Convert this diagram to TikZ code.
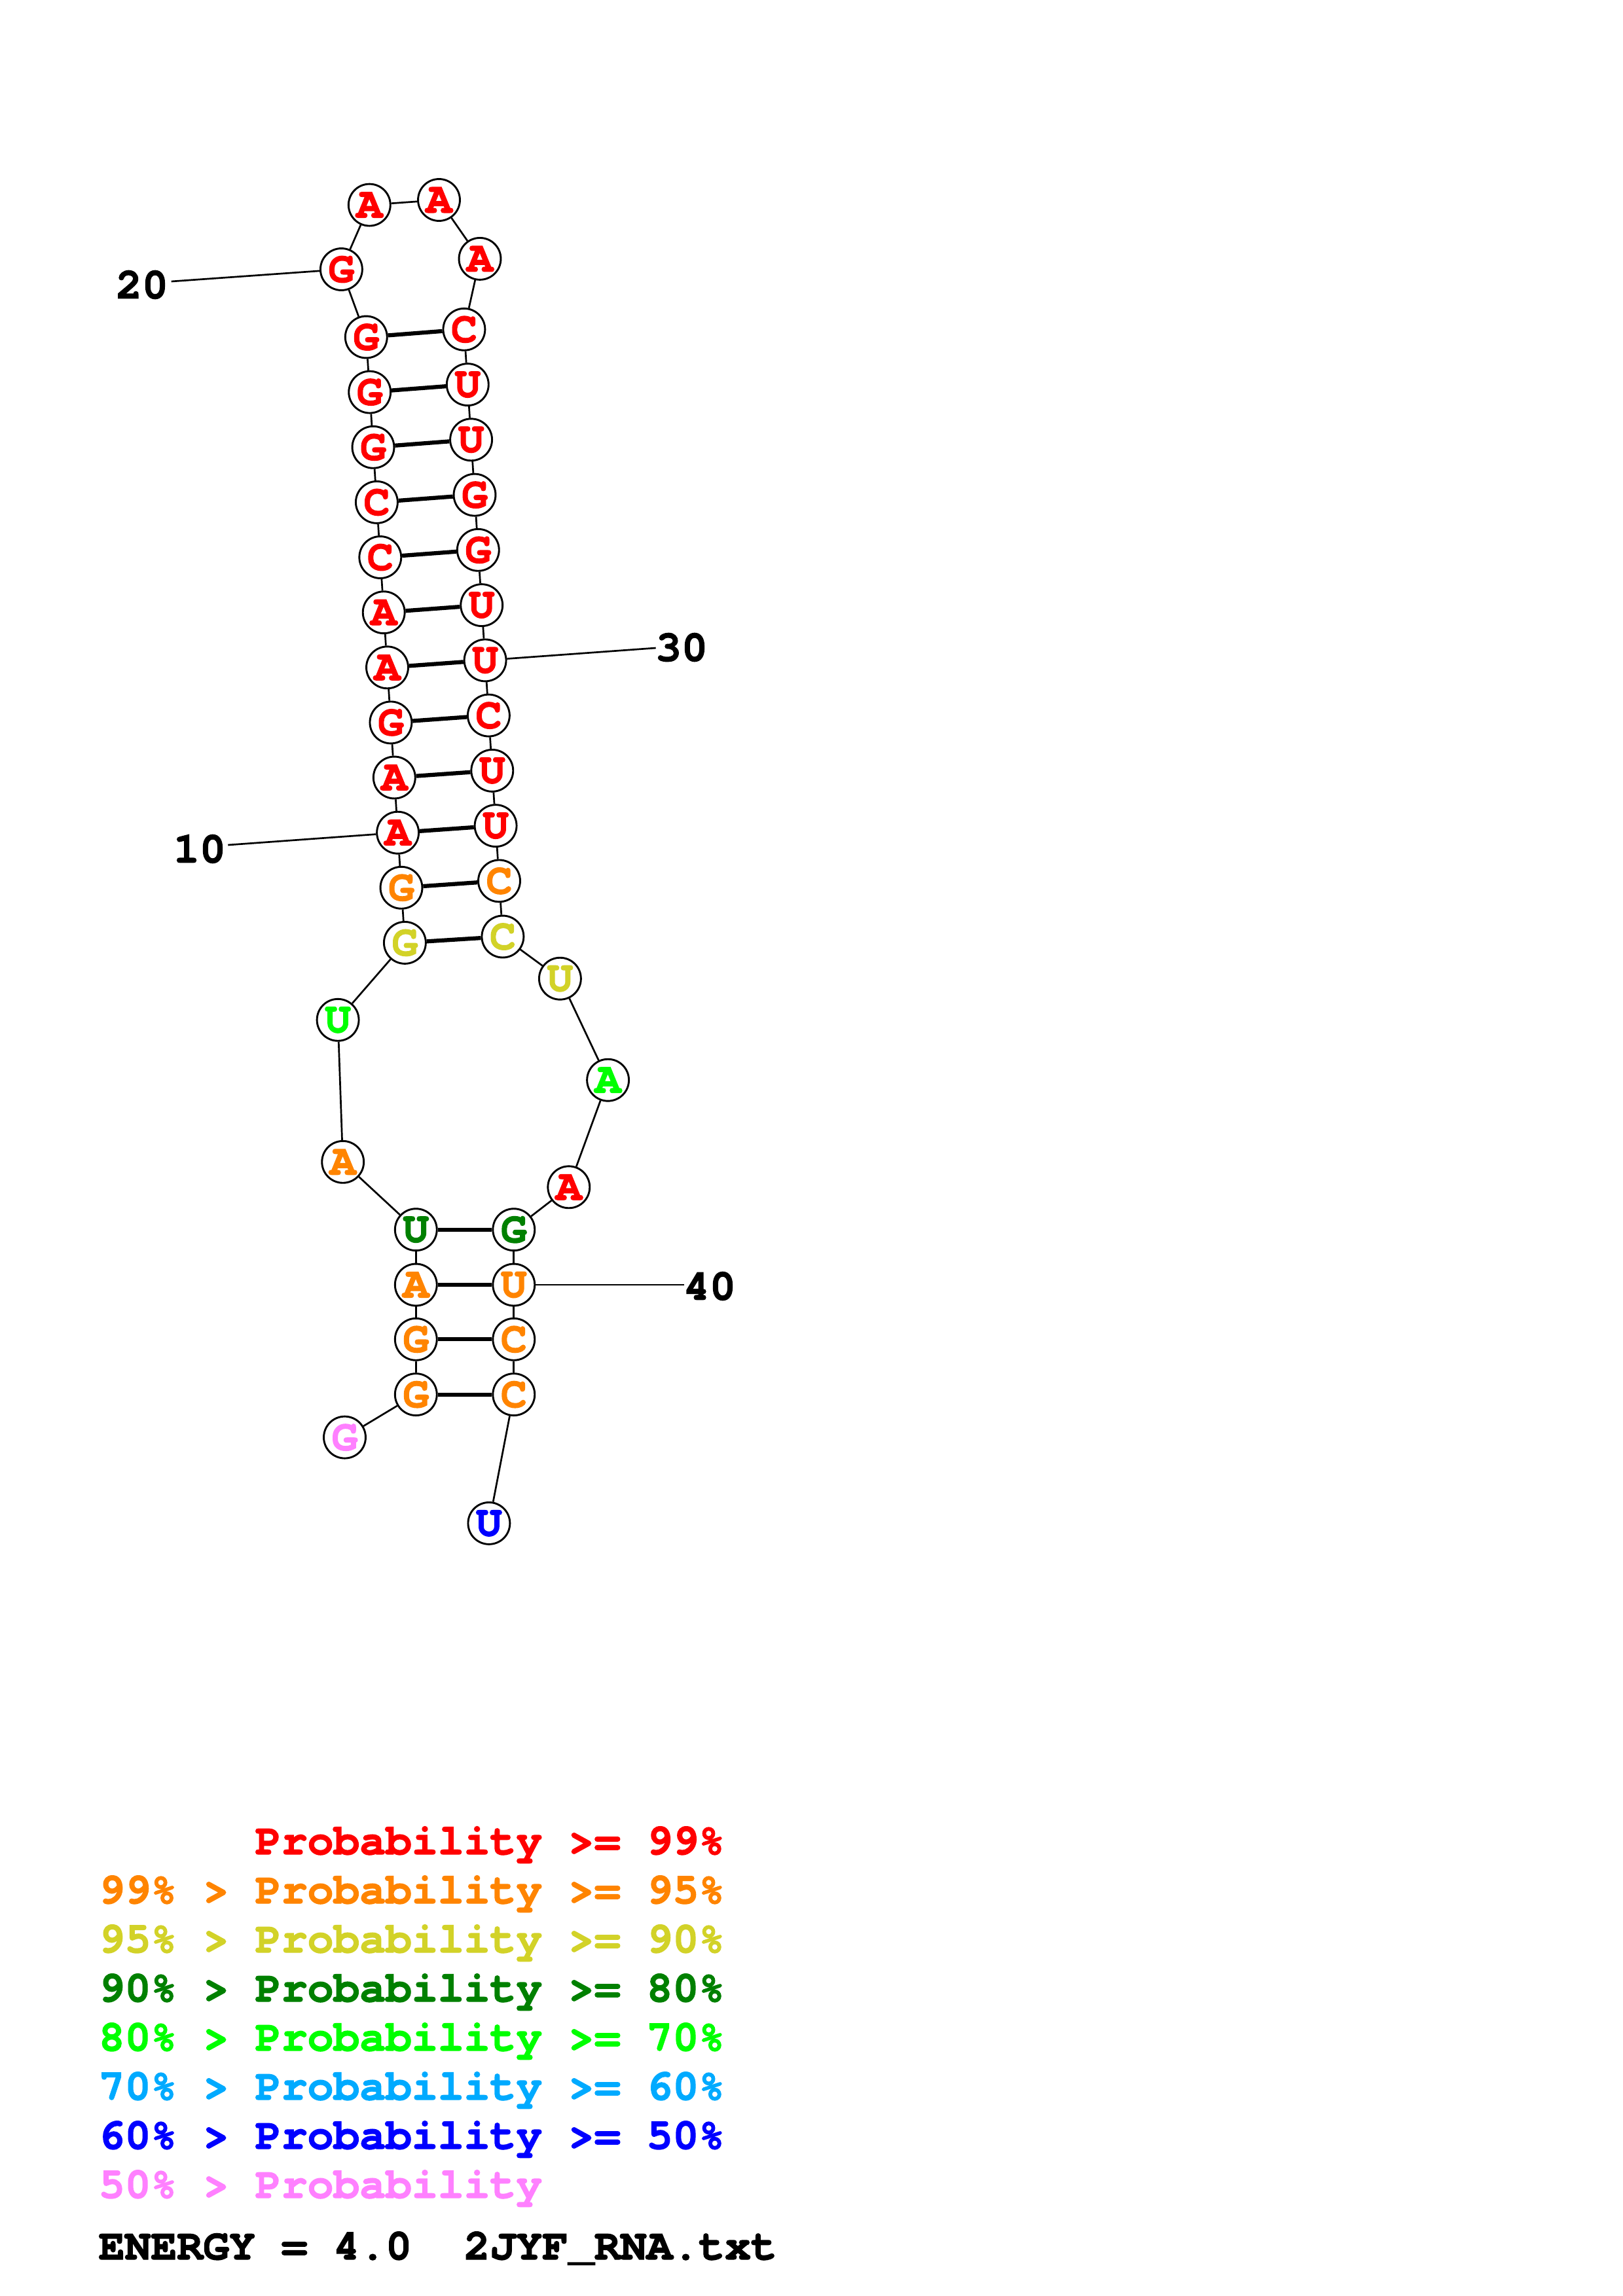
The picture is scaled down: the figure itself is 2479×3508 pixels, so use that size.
\documentclass[tikz,border=0pt]{standalone}
\usepackage{fontspec}
\newfontfamily\cour{TeX Gyre Cursor}[BoldFeatures={FakeBold=2}]
\definecolor{pRed}{RGB}{255,0,0}
\definecolor{pOrange}{RGB}{255,132,0}
\definecolor{pYellow}{RGB}{210,210,40}
\definecolor{pDkGreen}{RGB}{0,128,0}
\definecolor{pGreen}{RGB}{0,255,0}
\definecolor{pLBlue}{RGB}{0,170,255}
\definecolor{pBlue}{RGB}{0,0,255}
\definecolor{pPink}{RGB}{255,128,255}
\tikzset{
  nt/.style={circle,draw=black,line width=0.7pt,fill=white,minimum size=15.4pt,inner sep=0pt,font=\cour\bfseries\fontsize{16pt}{16pt}\selectfont},
  bb/.style={line width=0.65pt},
  bond/.style={line width=1.5pt},
  numlab/.style={font=\cour\bfseries\fontsize{16pt}{16pt}\selectfont,inner sep=0pt},
  leg/.style={font=\cour\bfseries\fontsize{16pt}{16pt}\selectfont,inner sep=0pt,anchor=base west}
}
\begin{document}
\begin{tikzpicture}[x=0.2409pt,y=-0.2409pt]
\useasboundingbox (0,0) rectangle (2479,3508);
% nucleotides
\node[nt,text=pPink]    (n1)  at (526.5,2196.1) {G};
\node[nt,text=pOrange]  (n2)  at (635.3,2130.6) {G};
\node[nt,text=pOrange]  (n3)  at (635.3,2046.3) {G};
\node[nt,text=pOrange]  (n4)  at (635.3,1963.0) {A};
\node[nt,text=pDkGreen] (n5)  at (635.3,1878.7) {U};
\node[nt,text=pOrange]  (n6)  at (523.7,1775.3) {A};
\node[nt,text=pGreen]   (n7)  at (516.1,1558.3) {U};
\node[nt,text=pYellow]  (n8)  at (618.4,1440.4) {G};
\node[nt,text=pOrange]  (n9)  at (613.0,1356.3) {G};
\node[nt,text=pRed]     (n10) at (607.6,1272.2) {A};
\node[nt,text=pRed]     (n11) at (602.3,1188.0) {A};
\node[nt,text=pRed]     (n12) at (596.9,1103.9) {G};
\node[nt,text=pRed]     (n13) at (591.5,1019.8) {A};
\node[nt,text=pRed]     (n14) at (586.2,935.7) {A};
\node[nt,text=pRed]     (n15) at (580.8,851.5) {C};
\node[nt,text=pRed]     (n16) at (575.4,767.4) {C};
\node[nt,text=pRed]     (n17) at (570.0,683.3) {G};
\node[nt,text=pRed]     (n18) at (564.7,599.1) {G};
\node[nt,text=pRed]     (n19) at (559.3,515.0) {G};
\node[nt,text=pRed]     (n20) at (521.4,411.5) {G};
\node[nt,text=pRed]     (n21) at (564.3,313.1) {A};
\node[nt,text=pRed]     (n22) at (670.5,305.5) {A};
\node[nt,text=pRed]     (n23) at (733.0,395.4) {A};
\node[nt,text=pRed]     (n24) at (708.9,503.3) {C};
\node[nt,text=pRed]     (n25) at (714.3,587.6) {U};
\node[nt,text=pRed]     (n26) at (719.6,671.8) {U};
\node[nt,text=pRed]     (n27) at (725.0,756.1) {G};
\node[nt,text=pRed]     (n28) at (730.3,840.3) {G};
\node[nt,text=pRed]     (n29) at (735.7,924.6) {U};
\node[nt,text=pRed]     (n30) at (741.1,1008.9) {U};
\node[nt,text=pRed]     (n31) at (746.4,1093.1) {C};
\node[nt,text=pRed]     (n32) at (751.8,1177.4) {U};
\node[nt,text=pRed]     (n33) at (757.1,1261.6) {U};
\node[nt,text=pOrange]  (n34) at (762.5,1345.9) {C};
\node[nt,text=pYellow]  (n35) at (767.9,1431.0) {C};
\node[nt,text=pYellow]  (n36) at (855.4,1495.2) {U};
\node[nt,text=pGreen]   (n37) at (928.6,1650.2) {A};
\node[nt,text=pRed]     (n38) at (868.8,1813.8) {A};
\node[nt,text=pDkGreen] (n39) at (784.8,1878.7) {G};
\node[nt,text=pOrange]  (n40) at (784.8,1963.0) {U};
\node[nt,text=pOrange]  (n41) at (784.8,2046.3) {C};
\node[nt,text=pOrange]  (n42) at (784.8,2130.6) {C};
\node[nt,text=pBlue]    (n43) at (746.9,2327.4) {U};
% backbone
\foreach \i [evaluate=\i as \j using int(\i+1)] in {1,...,42}
  \draw[bb] (n\i) -- (n\j);
% base pairs
\foreach \a/\b in {8/35,9/34,10/33,11/32,12/31,13/30,14/29,15/28,16/27,17/26,18/25,19/24,2/42,3/41,4/40,5/39}
  \draw[bond] (n\a) -- (n\b);
% numbering
\coordinate (e10) at (348.3,1291.0);
\coordinate (e20) at (261.7,430.0);
\coordinate (e30) at (1001.7,990.0);
\coordinate (e40) at (1045.0,1963.0);
\draw[bb] (n10) -- (e10);
\draw[bb] (n20) -- (e20);
\draw[bb] (n30) -- (e30);
\draw[bb] (n40) -- (e40);
\node[numlab] (l10) at (305,1297) {10};
\node[numlab] (l20) at (217,435) {20};
\node[numlab] (l30) at (1041,989) {30};
\node[numlab] (l40) at (1084,1965) {40};
% legend
\begin{scope}[every node/.style={leg}]
\node[text=pRed]     (g1) at (150,2833) {\phantom{99\% > }Probability >= 99\%};
\node[text=pOrange]  (g2) at (150,2908) {99\% > Probability >= 95\%};
\node[text=pYellow]  (g3) at (150,2983) {95\% > Probability >= 90\%};
\node[text=pDkGreen] (g4) at (150,3058) {90\% > Probability >= 80\%};
\node[text=pGreen]   (g5) at (150,3133) {80\% > Probability >= 70\%};
\node[text=pLBlue]   (g6) at (150,3208) {70\% > Probability >= 60\%};
\node[text=pBlue]    (g7) at (150,3283) {60\% > Probability >= 50\%};
\node[text=pPink]    (g8) at (150,3358) {50\% > Probability};
\node[text=black]    (g9) at (150,3452) {ENERGY = 4.0\ \ 2JYF\_RNA.txt};
\end{scope}
\end{tikzpicture}
\end{document}
